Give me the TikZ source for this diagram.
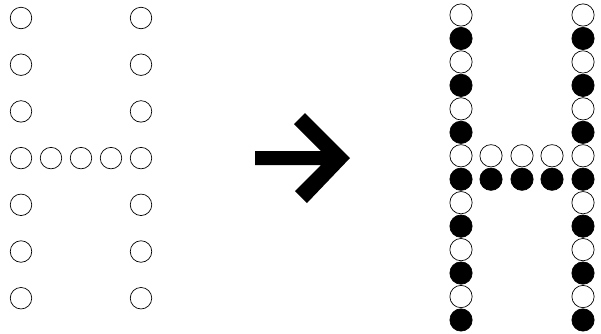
\documentclass[tikz,border=0pt]{standalone}
\begin{document}
\begin{tikzpicture}[x=1pt,y=-1pt,
  opendot/.style={circle,draw=black,fill=white,line width=0.7pt,minimum size=21.5pt,inner sep=0pt},
  filldot/.style={circle,draw=black,fill=black,line width=0.7pt,minimum size=21.5pt,inner sep=0pt},
  ropen/.style={opendot,minimum size=22.3pt},
  rfill/.style={filldot,minimum size=22.3pt}]
\useasboundingbox (0,0) rectangle (601,333);
% left grid: 7 rows, columns at 21 and 141, middle row full
\foreach \r in {0,...,6}{
  \node[opendot] (L\r a) at (21,{18+46.7*\r}) {};
  \node[opendot] (L\r e) at (141,{18+46.7*\r}) {};
}
\foreach \c/\x in {b/51,c/81,d/111}{
  \node[opendot] (L3\c) at (\x,{18+46.7*3}) {};
}
% arrow
\fill[black] (350,158) -- (305,113) -- (294,124) -- (321,151) -- (255,151)
  -- (255,165) -- (321,165) -- (295,191) -- (307,203) -- cycle;
% right grid: 14 rows alternating open/filled
\foreach \r in {0,...,13}{
  \pgfmathtruncatemacro{\odd}{mod(\r,2)}
  \ifnum\odd=0
    \node[ropen] (R\r a) at (461,{15+23.46*\r}) {};
    \node[ropen] (R\r e) at (583,{15+23.46*\r}) {};
  \else
    \node[rfill] (R\r a) at (461,{15+23.46*\r}) {};
    \node[rfill] (R\r e) at (583,{15+23.46*\r}) {};
  \fi
}
\foreach \c/\x in {b/491,c/522,d/552}{
  \node[ropen] (R6\c) at (\x,{15+23.46*6}) {};
  \node[rfill] (R7\c) at (\x,{15+23.46*7}) {};
}
\end{tikzpicture}
\end{document}
